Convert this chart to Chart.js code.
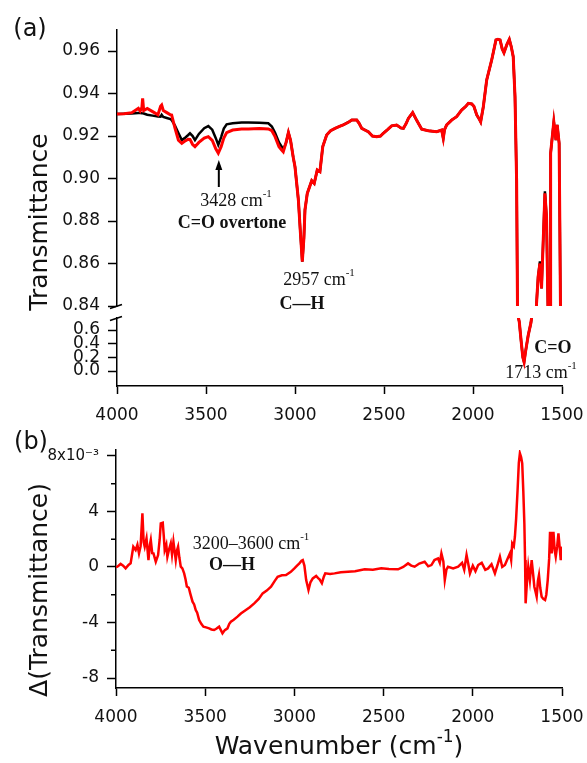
<!DOCTYPE html>
<html>
<head>
<meta charset="utf-8">
<script src="https://cdn.jsdelivr.net/npm/chart.js@4.4.1/dist/chart.umd.min.js"></script>
<style>
  body { margin: 0; background: #fff; }
  #wrap { position: relative; width: 587px; height: 763px; overflow: hidden; font-family: "DejaVu Sans"; }
  canvas { position: absolute; left: 0; }
  .lbl { position: absolute; transform: translate(-50%, -50%); white-space: nowrap; color: #111; line-height: 1; }
  .serif { font-family: "Liberation Serif"; font-size: 18px; }
  .bold { font-weight: bold; }
  .sup { font-size: 11px; position: relative; top: -0.8em; }
  .panel { font-size: 24px; }
  .title { font-size: 25px; }
  .rot { transform: translate(-50%, -50%) rotate(-90deg); }
  .title .sup { font-size: 17px; top: -0.7em; }
</style>
</head>
<body>
<div id="wrap">
  <canvas id="aTop" width="587" height="320" style="top:0"></canvas>
  <canvas id="aLow" width="587" height="134" style="top:306px"></canvas>
  <canvas id="bChart" width="587" height="323" style="top:440px"></canvas>

  <div class="lbl panel" style="left:30px; top:28px">(a)</div>
  <div class="lbl panel" style="left:31px; top:441px">(b)</div>
  <div class="lbl title rot" style="left:38px; top:222px">Transmittance</div>
  <div class="lbl title rot" style="left:38px; top:590px">Δ(Transmittance)</div>
  <div class="lbl title" style="left:339px; top:745px">Wavenumber (cm<span class="sup">-1</span>)</div>

  <div class="lbl serif" style="left:236px; top:200px">3428 cm<span class="sup">-1</span></div>
  <div class="lbl serif bold" style="left:232px; top:222px">C=O overtone</div>
  <div class="lbl serif" style="left:319px; top:279px">2957 cm<span class="sup">-1</span></div>
  <div class="lbl serif bold" style="left:302px; top:303px">C—H</div>
  <div class="lbl serif bold" style="left:553px; top:347px">C=O</div>
  <div class="lbl serif" style="left:541px; top:372px">1713 cm<span class="sup">-1</span></div>
  <div class="lbl serif" style="left:251px; top:543px">3200–3600 cm<span class="sup">-1</span></div>
  <div class="lbl serif bold" style="left:232px; top:564px">O—H</div>
</div>
<script>
// (a) transmittance spectra, wavenumber in cm-1
const wnA = [4000, 3960, 3917, 3880, 3870, 3860, 3856, 3850, 3830, 3800, 3770, 3755, 3749, 3740, 3720, 3700,
  3693, 3675, 3655, 3636, 3620, 3600, 3590, 3575, 3562, 3540, 3510, 3487, 3465, 3445, 3431, 3415, 3400, 3384,
  3350, 3300, 3262, 3200, 3150, 3130, 3112, 3090, 3075, 3066, 3050, 3037, 3025, 3010, 3000, 2981, 2970, 2959,
  2950, 2944, 2931, 2906, 2892, 2875, 2860, 2844, 2822, 2800, 2775, 2750, 2729, 2700, 2681, 2653, 2640, 2625,
  2600, 2588, 2565, 2541, 2520, 2504, 2480, 2457, 2429, 2405, 2391, 2375, 2363, 2339, 2317, 2300, 2288, 2251,
  2204, 2176, 2167, 2160, 2148, 2120, 2092, 2064, 2040, 2026, 2007, 1995, 1979, 1965, 1957, 1942, 1923, 1895,
  1871, 1860, 1848, 1836, 1826, 1810, 1796, 1785, 1774, 1764, 1755, 1740, 1730, 1720, 1713, 1705, 1690, 1675,
  1670, 1655, 1643, 1634, 1624, 1615, 1606, 1596, 1587, 1578, 1570, 1566, 1564, 1546, 1534, 1527, 1516, 1508, 1500];
const tRed = [0.9304, 0.9305, 0.9310, 0.9330, 0.9318, 0.9335, 0.9377, 0.9320, 0.9330, 0.9315, 0.9300, 0.9340, 0.9346, 0.9320, 0.9310, 0.9300,
  0.9299, 0.9240, 0.9180, 0.9166, 0.9175, 0.9185, 0.9184, 0.9160, 0.9150, 0.9170, 0.9190, 0.9197, 0.9180, 0.9140, 0.9119, 0.9150, 0.9190, 0.9216,
  0.9228, 0.9233, 0.9233, 0.9235, 0.9233, 0.9225, 0.9197, 0.9150, 0.9134, 0.9126, 0.9170, 0.9216, 0.9180, 0.9100, 0.9055, 0.8899, 0.8750, 0.8609,
  0.8720, 0.8852, 0.8930, 0.8990, 0.8977, 0.9040, 0.9032, 0.9150, 0.9205, 0.9225, 0.9236, 0.9245, 0.9252, 0.9265, 0.9275, 0.9275, 0.9260, 0.9236,
  0.9225, 0.9220, 0.9200, 0.9197, 0.9200, 0.9213, 0.9230, 0.9248, 0.9252, 0.9238, 0.9236, 0.9260, 0.9283, 0.9310, 0.9275, 0.9250, 0.9232, 0.9225,
  0.9220, 0.9228, 0.9189, 0.9230, 0.9252, 0.9275, 0.9291, 0.9322, 0.9340, 0.9354, 0.9351, 0.9340, 0.9299, 0.9280, 0.9267, 0.9338, 0.9464, 0.9558,
  0.9652, 0.9655, 0.9652, 0.9610, 0.9592, 0.9630, 0.9655, 0.9620, 0.9573, 0.9385, 0.8990, 0.7200, 0.4500, 0.2000, 0.1300, 0.2800, 0.5200, 0.7000,
  0.7900, 0.8100, 0.8413, 0.8538, 0.8600, 0.8483, 0.8695, 0.8930, 0.8820, 0.8350, 0.8000, 0.8000, 0.9118, 0.9267, 0.9181, 0.9252, 0.9166, 0.8350, 0.8000];
const tBlack = [0.9304, 0.9305, 0.9306, 0.9308, 0.9308, 0.9307, 0.9307, 0.9306, 0.9300, 0.9296, 0.9292, 0.9291, 0.9300, 0.9290, 0.9285, 0.9280,
  0.9275, 0.9250, 0.9214, 0.9181, 0.9190, 0.9205, 0.9213, 0.9200, 0.9181, 0.9210, 0.9237, 0.9247, 0.9230, 0.9190, 0.9158, 0.9195, 0.9235, 0.9255,
  0.9260, 0.9264, 0.9264, 0.9262, 0.9260, 0.9245, 0.9215, 0.9170, 0.9150, 0.9134, 0.9170, 0.9216, 0.9180, 0.9100, 0.9055, 0.8899, 0.8750, 0.8609,
  0.8720, 0.8852, 0.8930, 0.8990, 0.8977, 0.9040, 0.9032, 0.9150, 0.9205, 0.9225, 0.9236, 0.9245, 0.9252, 0.9265, 0.9275, 0.9275, 0.9260, 0.9236,
  0.9225, 0.9220, 0.9200, 0.9197, 0.9200, 0.9213, 0.9230, 0.9248, 0.9252, 0.9238, 0.9236, 0.9260, 0.9283, 0.9310, 0.9275, 0.9250, 0.9232, 0.9225,
  0.9220, 0.9228, 0.9189, 0.9230, 0.9252, 0.9275, 0.9291, 0.9322, 0.9340, 0.9354, 0.9351, 0.9340, 0.9299, 0.9280, 0.9267, 0.9338, 0.9464, 0.9558,
  0.9652, 0.9655, 0.9652, 0.9610, 0.9592, 0.9630, 0.9655, 0.9620, 0.9573, 0.9385, 0.8990, 0.7200, 0.4500, 0.2000, 0.1300, 0.2800, 0.5200, 0.7000,
  0.7900, 0.8100, 0.8413, 0.8538, 0.8610, 0.8483, 0.8695, 0.8940, 0.8820, 0.8350, 0.8000, 0.8000, 0.9118, 0.9267, 0.9181, 0.9252, 0.9166, 0.8350, 0.8000];

// (b) difference spectrum, units of 1e-3
const wnB = [4000, 3992, 3974, 3960, 3946, 3930, 3918, 3910, 3903, 3890, 3880, 3871, 3862, 3852, 3845, 3839, 3829, 3818,
  3810, 3805, 3797, 3790, 3777, 3764, 3755, 3749, 3738, 3732, 3727, 3718, 3712, 3702, 3693, 3686, 3678, 3665, 3658,
  3652, 3645, 3637, 3628, 3618, 3610, 3603, 3592, 3584, 3571, 3562, 3553, 3545, 3534, 3522, 3510, 3495, 3478, 3465,
  3450, 3438, 3422, 3410, 3403, 3390, 3375, 3365, 3356, 3340, 3319, 3300, 3272, 3250, 3225, 3200, 3178, 3155, 3131,
  3110, 3094, 3070, 3047, 3020, 3000, 2985, 2972, 2960, 2953, 2944, 2934, 2921, 2910, 2897, 2878, 2867, 2859, 2846,
  2835, 2827, 2800, 2775, 2740, 2700, 2660, 2606, 2560, 2513, 2470, 2419, 2390, 2363, 2345, 2326, 2300, 2270, 2250,
  2232, 2215, 2195, 2185, 2176, 2165, 2157, 2148, 2139, 2110, 2082, 2060, 2048, 2035, 2025, 2016, 2000, 1985, 1970,
  1950, 1930, 1914, 1895, 1876, 1860, 1848, 1835, 1820, 1805, 1792, 1785, 1779, 1770, 1764, 1757, 1749, 1742, 1736,
  1729, 1723, 1717, 1711, 1707, 1704, 1697, 1689, 1680, 1670, 1662, 1655, 1648, 1642, 1635, 1629, 1622, 1614, 1605,
  1595, 1588, 1580, 1572, 1567, 1562, 1558, 1553, 1548, 1541, 1535, 1527, 1520, 1513, 1507, 1502, 1500];
const dTrans = [0.0, 0.02, 0.22, 0.1, -0.1, 0.15, 0.26, 0.9, 1.46, 1.22, 1.6, 0.98, 1.5, 3.86, 1.8, 1.46, 2.06, 0.5,
  1.6, 1.94, 1.0, 0.98, 0.38, 0.86, 2.0, 3.14, 3.19, 2.2, 1.22, 1.6, 0.74, 1.3, 1.7, 0.9, 1.82, 0.5, 1.2,
  1.46, 0.7, 0.02, -0.1, -0.46, -0.9, -1.41, -1.5, -1.9, -2.5, -2.7, -3.1, -3.3, -3.82, -4.1, -4.3, -4.35, -4.42, -4.5,
  -4.54, -4.45, -4.3, -4.6, -4.78, -4.55, -4.42, -4.1, -3.94, -3.8, -3.58, -3.35, -3.1, -2.9, -2.62, -2.3, -1.9, -1.7, -1.42,
  -1.0, -0.7, -0.6, -0.58, -0.35, -0.1, 0.1, 0.26, 0.45, 0.5, 0.1, -0.94, -1.66, -1.1, -0.82, -0.65, -0.8, -0.89, -1.17,
  -0.7, -0.46, -0.5, -0.46, -0.38, -0.34, -0.3, -0.17, -0.2, -0.1, -0.15, -0.17, 0.0, 0.26, 0.1, 0.02, 0.25, 0.38, 0.05,
  0.14, 0.5, 0.62, 0.3, 0.98, 0.4, -0.94, -0.2, 0.02, -0.1, 0.02, 0.3, -0.2, 0.86, 0.2, -0.46, 0.1, -0.3, 0.14,
  0.3, -0.2, -0.1, 0.2, -0.46, 0.2, 0.74, 0.0, 0.14, 0.6, 0.98, 0.5, 1.7, 1.5, 2.18, 3.5, 5.55, 7.5, 8.19,
  7.9, 7.47, 5.5, 3.15, 0.5, -2.62, -1.2, 0.02, -0.94, 0.5, -0.5, -1.42, -1.8, -2.14, -1.0, -0.58, -1.5, -2.14, -2.3,
  -2.38, -2.0, -0.94, 0.6, 2.54, 1.5, 0.98, 1.8, 2.54, 1.2, 0.74, 1.5, 2.42, 1.4, 0.5, 1.46, 1.2];

const ticksX = [4000, 3500, 3000, 2500, 2000, 1500];
const ticksTop = [0.84, 0.86, 0.88, 0.90, 0.92, 0.94, 0.96];
const ticksLow = [0.0, 0.2, 0.4, 0.6];
const ticksB = [-8, -4, 0, 4, 8];
const minorTicksB = [-6, -2, 2, 6];

// arrow under the 3428 cm-1 band
const arrowWn = 3428, arrowTip = 0.9087, arrowTail = 0.8960;

Chart.defaults.font.family = 'DejaVu Sans';
Chart.defaults.color = '#111';

const pts = (xs, ys) => xs.map((x, i) => ({ x: x, y: ys[i] }));

function xAxis(show, h, pad) {
    return {
        type: 'linear', reverse: true, min: 1500, max: 4000, display: show,
        afterBuildTicks: s => { s.ticks = ticksX.map(v => ({ value: v })); },
        afterFit: s => { s.height = h; s.paddingLeft = 0; s.paddingRight = 0; },
        ticks: { callback: v => String(v), autoSkip: false, maxRotation: 0, padding: pad, font: { size: 17 } },
        grid: { drawOnChartArea: false, tickLength: 8, tickColor: '#000', tickWidth: 1.5 },
        border: { color: '#000', width: 1.5 }
    };
}

function yAxis(min, max, ticks, w, fmt, font) {
    return {
        type: 'linear', min: min, max: max,
        afterBuildTicks: s => { s.ticks = ticks.map(v => ({ value: v })); },
        afterFit: s => { s.width = w; s.paddingTop = 0; s.paddingBottom = 0; },
        ticks: { callback: fmt, autoSkip: false, padding: 8, font: font || { size: 17 } },
        grid: { drawOnChartArea: false, tickLength: 9, tickColor: '#000', tickWidth: 1.5 },
        border: { color: '#000', width: 1.5 }
    };
}

const redA = { data: pts(wnA, tRed), borderColor: '#ff0000', borderWidth: 3, pointRadius: 0, tension: 0 };
const blackA = { data: pts(wnA, tBlack), borderColor: '#000000', borderWidth: 2.5, pointRadius: 0, tension: 0 };

function line(ctx, x1, y1, x2, y2) {
    ctx.beginPath(); ctx.moveTo(x1, y1); ctx.lineTo(x2, y2); ctx.stroke();
}

const breakTop = {
    id: 'breakTop',
    afterDraw(chart) {
        const { ctx, chartArea: a, scales } = chart;
        ctx.save();
        ctx.strokeStyle = '#000'; ctx.lineWidth = 1.5;
        line(ctx, a.left - 7, a.bottom + 2.5, a.left + 5, a.bottom - 1.5);
        // arrow
        const x = scales.x.getPixelForValue(arrowWn);
        const yt = scales.y.getPixelForValue(arrowTip);
        const yb = scales.y.getPixelForValue(arrowTail);
        ctx.lineWidth = 2;
        line(ctx, x, yb, x, yt + 6);
        ctx.fillStyle = '#000';
        ctx.beginPath(); ctx.moveTo(x, yt); ctx.lineTo(x - 3.5, yt + 10); ctx.lineTo(x + 3.5, yt + 10); ctx.closePath(); ctx.fill();
        ctx.restore();
    }
};

const breakLow = {
    id: 'breakLow',
    afterDraw(chart) {
        const { ctx, chartArea: a } = chart;
        ctx.save();
        ctx.strokeStyle = '#000'; ctx.lineWidth = 1.5;
        line(ctx, a.left - 7, a.top + 2.5, a.left + 5, a.top - 1.5);
        ctx.restore();
    }
};

const minorB = {
    id: 'minorB',
    afterDraw(chart) {
        const { ctx, chartArea: a, scales } = chart;
        ctx.save();
        ctx.strokeStyle = '#000'; ctx.lineWidth = 1.5;
        minorTicksB.forEach(v => {
            const y = scales.y.getPixelForValue(v);
            line(ctx, a.left - 5, y, a.left, y);
        });
        ctx.restore();
    }
};

const common = {
    responsive: false, animation: false, devicePixelRatio: 1,
    plugins: { legend: { display: false }, tooltip: { enabled: false } }
};

new Chart(document.getElementById('aTop'), {
    type: 'line',
    data: { datasets: [redA, blackA] },
    options: Object.assign({}, common, {
        layout: { padding: { top: 30, right: 25, bottom: 14, left: 0 } },
        scales: {
            x: xAxis(false, 0, 0),
            y: yAxis(0.84, 0.9699, ticksTop, 117, v => v.toFixed(2))
        }
    }),
    plugins: [breakTop]
});

new Chart(document.getElementById('aLow'), {
    type: 'line',
    data: { datasets: [Object.assign({}, redA, { data: pts(wnA, tRed) }), Object.assign({}, blackA, { data: pts(wnA, tBlack) })] },
    options: Object.assign({}, common, {
        layout: { padding: { top: 12, right: 25, bottom: 0, left: 0 } },
        scales: {
            x: xAxis(true, 54, 11),
            y: yAxis(-0.2196, 0.776, ticksLow, 117, v => v.toFixed(1))
        }
    }),
    plugins: [breakLow]
});

new Chart(document.getElementById('bChart'), {
    type: 'line',
    data: { datasets: [{ data: pts(wnB, dTrans), borderColor: '#ff0000', borderWidth: 2.5, pointRadius: 0, tension: 0 }] },
    options: Object.assign({}, common, {
        layout: { padding: { top: 10, right: 25, bottom: 0, left: 0 } },
        scales: {
            x: xAxis(true, 75, 11),
            y: yAxis(-8.72, 8.43, ticksB, 116, v => v === 8 ? '8x10⁻³' : String(v),
                c => ({ size: c.tick && c.tick.value === 8 ? 15 : 17 }))
        }
    }),
    plugins: [minorB]
});
</script>
</body>
</html>
